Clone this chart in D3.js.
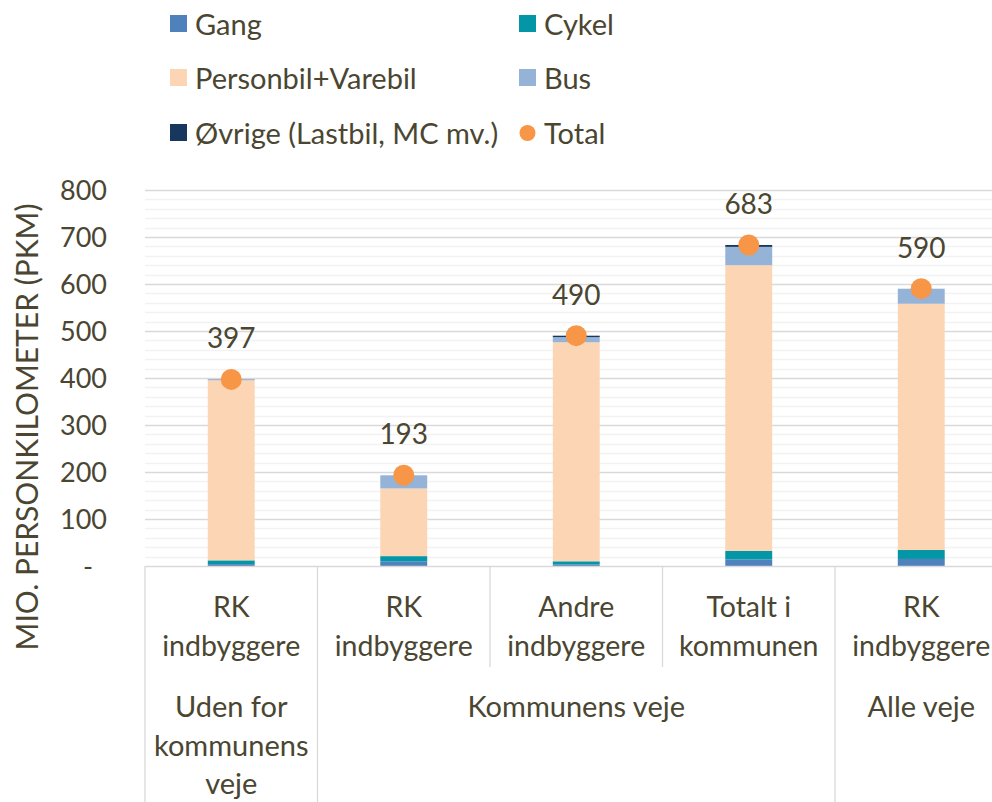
<!DOCTYPE html>
<html>
<head>
<meta charset="utf-8">
<script src="https://cdn.jsdelivr.net/npm/d3@7"></script>
<style>
    body { margin: 0; background: #fff; }
    text { font-family: Lato, "Open Sans", sans-serif; fill: #4a4631; }
</style>
</head>
<body>
<svg id="chart" width="992" height="802"></svg>
<script>
// category labels (two levels)
const inner_labels = [["RK", "indbyggere"], ["RK", "indbyggere"], ["Andre", "indbyggere"], ["Totalt i", "kommunen"], ["RK", "indbyggere"]];
const group_labels = [["Uden for", "kommunens", "veje"], ["Kommunens veje"], ["Alle veje"]];
const group_spans = [1, 3, 1];

// mio. pkm per mode
const series_names = ["Gang", "Cykel", "Personbil+Varebil", "Bus", "Øvrige (Lastbil, MC mv.)"];
const gang = [4, 10, 3.5, 14, 15];
const cykel = [8, 11, 6.5, 18, 19];
const personbil = [383, 144, 466, 608, 524];
const bus = [1.5, 28, 11, 39, 32];
const ovrige = [0.5, 0, 3, 4, 0];
const total = [397, 193, 490, 683, 590];

const y_ticks = [0, 100, 200, 300, 400, 500, 600, 700, 800];

const colors = ["#4f81bd", "#0396a6", "#fcd5b5", "#95b3d7", "#17375e"];
const total_color = "#f79646";

const svg = d3.select("#chart");
const plot_left = 145, plot_top = 190, plot_bottom = 566;
const step = 172.5;

const x = d3.scaleBand()
    .domain(d3.range(inner_labels.length))
    .range([plot_left, plot_left + step * inner_labels.length]);
const bar_w = x.bandwidth() * 0.272;
const cx = i => x(i) + x.bandwidth() / 2;

const y = d3.scaleLinear().domain([0, 800]).range([plot_bottom, plot_top]);

// gridlines
svg.append("g").selectAll("line")
    .data(y.ticks(40).filter(d => d % 100 !== 0))
    .join("line")
    .attr("x1", plot_left).attr("x2", 992)
    .attr("y1", d => Math.round(y(d)) + 0.5).attr("y2", d => Math.round(y(d)) + 0.5)
    .attr("stroke", "#f2f2f2").attr("stroke-width", 1.3);

svg.append("g").selectAll("line")
    .data(y_ticks.filter(d => d > 0))
    .join("line")
    .attr("x1", plot_left).attr("x2", 992)
    .attr("y1", d => Math.round(y(d)) + 0.5).attr("y2", d => Math.round(y(d)) + 0.5)
    .attr("stroke", "#d9d9d9").attr("stroke-width", 1.3);

// y tick labels
svg.append("g").selectAll("text")
    .data(y_ticks)
    .join("text")
    .attr("x", d => d === 0 ? 93 : 107)
    .attr("y", d => y(d) + 10)
    .attr("text-anchor", "end")
    .style("font-size", "27px")
    .text(d => d === 0 ? "-" : d);

// y axis title
svg.append("text")
    .attr("transform", "translate(38,427) rotate(-90)")
    .attr("text-anchor", "middle")
    .style("font-size", "30px")
    .text("MIO. PERSONKILOMETER (PKM)");

// stacked bars
const rows = d3.range(inner_labels.length).map(i => ({
    i: i, gang: gang[i], cykel: cykel[i], personbil: personbil[i], bus: bus[i], ovrige: ovrige[i]
}));
const keys = ["gang", "cykel", "personbil", "bus", "ovrige"];
const stacked = d3.stack().keys(keys)(rows);

svg.append("g").selectAll("g")
    .data(stacked)
    .join("g")
    .attr("fill", (d, k) => colors[k])
    .selectAll("rect")
    .data(d => d)
    .join("rect")
    .attr("x", d => cx(d.data.i) - bar_w / 2)
    .attr("width", bar_w)
    .attr("y", d => y(d[1]))
    .attr("height", d => y(d[0]) - y(d[1]));

// total dots + labels
svg.append("g").selectAll("circle")
    .data(total)
    .join("circle")
    .attr("cx", (d, i) => cx(i))
    .attr("cy", d => y(d))
    .attr("r", 10.5)
    .attr("fill", total_color);

svg.append("g").selectAll("text")
    .data(total)
    .join("text")
    .attr("x", (d, i) => cx(i))
    .attr("y", d => y(d) - 31)
    .attr("text-anchor", "middle")
    .style("font-size", "28px")
    .text(d => d);

// category axis
const axis = svg.append("g").attr("stroke", "#d9d9d9").attr("stroke-width", 1.3);
axis.append("line")
    .attr("x1", plot_left).attr("x2", 992)
    .attr("y1", plot_bottom + 0.5).attr("y2", plot_bottom + 0.5);

let group_edges = [0];
group_spans.forEach(s => group_edges.push(group_edges[group_edges.length - 1] + s));

d3.range(inner_labels.length + 1).forEach(i => {
    const xx = plot_left + step * i;
    const is_group_edge = group_edges.includes(i);
    axis.append("line")
        .attr("x1", xx).attr("x2", xx)
        .attr("y1", plot_bottom).attr("y2", is_group_edge ? 802 : 667);
});

svg.append("g").selectAll("text")
    .data(inner_labels)
    .join("text")
    .attr("text-anchor", "middle")
    .style("font-size", "28.5px")
    .each(function (d, i) {
        d3.select(this).selectAll("tspan")
            .data(d)
            .join("tspan")
            .attr("x", cx(i))
            .attr("y", (t, j) => 617 + j * 38.5)
            .text(t => t);
    });

svg.append("g").selectAll("text")
    .data(group_labels)
    .join("text")
    .attr("text-anchor", "middle")
    .style("font-size", "29px")
    .each(function (d, g) {
        const x0 = plot_left + step * group_edges[g];
        const x1 = plot_left + step * group_edges[g + 1];
        d3.select(this).selectAll("tspan")
            .data(d)
            .join("tspan")
            .attr("x", (x0 + x1) / 2)
            .attr("y", (t, j) => 717 + j * 38.5)
            .text(t => t);
    });

// legend
const legend_items = series_names.map((n, k) => ({ name: n, color: colors[k], type: "rect" }))
    .concat([{ name: "Total", color: total_color, type: "dot" }]);
const legend_cols = [170, 519];
const legend_rows = [24, 78, 133];

const legend = svg.append("g").selectAll("g")
    .data(legend_items)
    .join("g")
    .attr("transform", (d, k) => `translate(${legend_cols[k % 2]},${legend_rows[Math.floor(k / 2)]})`);

legend.filter(d => d.type === "rect").append("rect")
    .attr("x", 0).attr("y", -9).attr("width", 17).attr("height", 17)
    .attr("fill", d => d.color);
legend.filter(d => d.type === "dot").append("circle")
    .attr("cx", 8.5).attr("cy", 0).attr("r", 8)
    .attr("fill", d => d.color);
legend.append("text")
    .attr("x", 25).attr("y", 10.5)
    .style("font-size", "29px")
    .text(d => d.name);
</script>
</body>
</html>
